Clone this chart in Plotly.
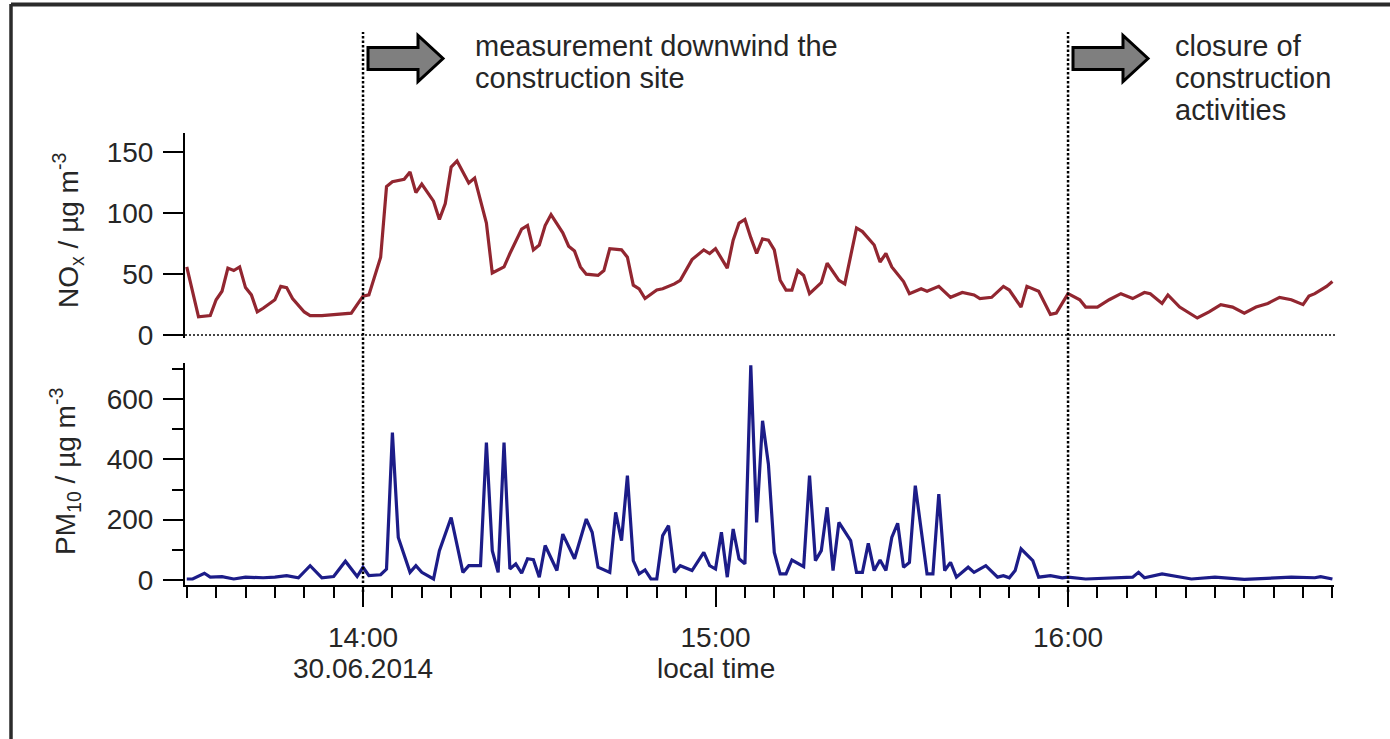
import plotly.graph_objects as go

# ---------------- data ----------------
DATE = "2014-06-30"

nox_time = [
    "13:30", "13:32", "13:34", "13:35", "13:36", "13:37", "13:38", "13:39", "13:40", "13:41",
    "13:42", "13:43", "13:45", "13:46", "13:47", "13:48", "13:50", "13:51", "13:53", "13:56",
    "13:58", "13:59", "14:00", "14:01", "14:03", "14:04", "14:05", "14:07", "14:08", "14:09",
    "14:10", "14:12", "14:13", "14:14", "14:15", "14:16", "14:17", "14:18", "14:19", "14:21",
    "14:22", "14:24", "14:25", "14:27", "14:28", "14:29", "14:30", "14:31", "14:32", "14:33",
    "14:34", "14:35", "14:36", "14:37", "14:38", "14:40", "14:41", "14:42", "14:44", "14:45",
    "14:46", "14:47", "14:48", "14:50", "14:51", "14:53", "14:54", "14:56", "14:57", "14:58",
    "14:59", "15:00", "15:02", "15:03", "15:04", "15:05", "15:06", "15:07", "15:08", "15:09",
    "15:10", "15:11", "15:12", "15:13", "15:14", "15:15", "15:16", "15:18", "15:19", "15:21",
    "15:22", "15:24", "15:25", "15:27", "15:28", "15:29", "15:30", "15:32", "15:33", "15:35",
    "15:36", "15:38", "15:40", "15:42", "15:44", "15:45", "15:47", "15:49", "15:50", "15:52",
    "15:53", "15:55", "15:57", "15:58", "15:59", "16:00", "16:02", "16:03", "16:05", "16:07",
    "16:09", "16:11", "16:13", "16:14", "16:16", "16:17", "16:19", "16:22", "16:24", "16:26",
    "16:28", "16:30", "16:32", "16:34", "16:36", "16:38", "16:40", "16:41", "16:42", "16:44",
    "16:45",
]
nox_value = [
    56, 15, 16, 29, 36, 55, 53, 56, 39, 33,
    19, 22, 29, 40, 39, 30, 19, 16, 16, 17,
    18, 25, 32, 33, 64, 122, 126, 128, 134, 117,
    124, 110, 95, 108, 138, 143, 134, 125, 129, 92,
    51, 56, 67, 87, 90, 70, 74, 90, 99, 92,
    84, 73, 69, 56, 50, 49, 53, 71, 70, 64,
    41, 38, 30, 37, 38, 42, 45, 62, 66, 70,
    67, 71, 55, 78, 92, 95, 80, 67, 79, 78,
    70, 45, 37, 37, 53, 49, 34, 43, 59, 45,
    42, 88, 85, 74, 60, 67, 56, 44, 34, 38,
    36, 40, 31, 35, 33, 30, 31, 40, 37, 23,
    40, 36, 17, 18, 26, 34, 29, 23, 23, 29,
    34, 30, 35, 34, 26, 33, 23, 14, 19, 25,
    23, 18, 23, 26, 31, 29, 25, 32, 34, 40,
    44,
]

pm_time = [
    "13:30", "13:31", "13:33", "13:34", "13:36", "13:38", "13:40", "13:43", "13:45", "13:47",
    "13:49", "13:51", "13:53", "13:55", "13:57", "13:59", "14:00", "14:01", "14:03", "14:04",
    "14:05", "14:06", "14:08", "14:09", "14:10", "14:12", "14:13", "14:15", "14:17", "14:18",
    "14:20", "14:21", "14:22", "14:23", "14:24", "14:25", "14:26", "14:27", "14:28", "14:29",
    "14:30", "14:31", "14:33", "14:34", "14:36", "14:38", "14:39", "14:40", "14:42", "14:43",
    "14:44", "14:45", "14:46", "14:47", "14:48", "14:49", "14:50", "14:51", "14:52", "14:53",
    "14:54", "14:56", "14:58", "14:59", "15:00", "15:01", "15:02", "15:03", "15:04", "15:05",
    "15:06", "15:07", "15:08", "15:09", "15:10", "15:11", "15:12", "15:13", "15:15", "15:16",
    "15:17", "15:18", "15:19", "15:20", "15:21", "15:23", "15:24", "15:25", "15:26", "15:27",
    "15:28", "15:29", "15:30", "15:31", "15:32", "15:33", "15:34", "15:36", "15:37", "15:38",
    "15:39", "15:40", "15:41", "15:43", "15:44", "15:46", "15:48", "15:49", "15:50", "15:51",
    "15:52", "15:54", "15:55", "15:57", "15:59", "16:00", "16:03", "16:09", "16:11", "16:12",
    "16:13", "16:16", "16:18", "16:21", "16:25", "16:30", "16:38", "16:42", "16:43", "16:45",
]
pm_value = [
    3, 3, 22, 9, 11, 3, 9, 7, 9, 14,
    7, 47, 7, 11, 62, 11, 42, 14, 17, 36,
    489, 141, 25, 47, 25, 3, 97, 207, 25, 47,
    47, 456, 97, 25, 456, 36, 53, 22, 70, 67,
    9, 114, 31, 152, 70, 202, 158, 42, 25, 224,
    130, 346, 64, 20, 33, 3, 3, 147, 180, 25,
    47, 31, 91, 47, 36, 158, 9, 169, 70, 53,
    712, 191, 528, 384, 91, 20, 20, 66, 44, 346,
    64, 97, 241, 31, 191, 130, 25, 25, 121, 31,
    66, 31, 141, 188, 42, 58, 313, 20, 20, 285,
    31, 58, 9, 42, 25, 47, 9, 14, 7, 31,
    103, 64, 9, 14, 7, 9, 3, 7, 9, 25,
    7, 20, 14, 3, 9, 2, 9, 7, 11, 3,
]

x_tick_times = ["14:00", "15:00", "16:00"]
x_tick_text = ["14:00", "15:00", "16:00"]
x_tick_subtext = ["30.06.2014", "local time", ""]
nox_ticks = [0, 50, 100, 150]
pm_ticks = [0, 200, 400, 600]
event_times = ["14:00", "16:00"]
event_labels = [
    ["measurement downwind the", "construction site"],
    ["closure of", "construction", "activities"],
]

# ---------------- layout helpers ----------------
W, H = 1390, 739
FONT = "Arial, 'Liberation Sans', sans-serif"
TXT = "#262626"


def ts(hm):
    return f"{DATE} {hm}:00"


def px(x):
    return x / W


def py(y):
    return 1 - y / H


X_DOMAIN = [px(185), px(1334)]
X_RANGE = [f"{DATE} 13:29:42", f"{DATE} 16:45:16"]

fig = go.Figure()
fig.add_trace(go.Scatter(
    x=[ts(t) for t in nox_time], y=nox_value, mode="lines",
    line=dict(color="#922630", width=3.2), xaxis="x", yaxis="y",
    showlegend=False, hoverinfo="skip",
))
fig.add_trace(go.Scatter(
    x=[ts(t) for t in pm_time], y=pm_value, mode="lines",
    line=dict(color="#1c1c88", width=3.2), xaxis="x2", yaxis="y2",
    showlegend=False, hoverinfo="skip",
))

axis_common = dict(
    showgrid=False, zeroline=False, showline=True, linecolor="black", linewidth=2,
    ticks="outside", ticklen=20, tickwidth=2, tickcolor="black", automargin=False,
    tickfont=dict(family=FONT, size=28, color=TXT),
)

fig.update_layout(
    template="none",
    width=W, height=H, autosize=False,
    margin=dict(l=0, r=0, t=0, b=0, pad=0, autoexpand=False),
    paper_bgcolor="white", plot_bgcolor="white",
    font=dict(family=FONT, color=TXT),
    xaxis=dict(domain=X_DOMAIN, range=X_RANGE, type="date", anchor="y",
               visible=False, showgrid=False, zeroline=False, automargin=False),
    yaxis=dict(domain=[py(337.5), py(133)], range=[-2, 166], anchor="x",
               tickmode="array", tickvals=nox_ticks, ticklabelstandoff=4, **axis_common),
    xaxis2=dict(domain=X_DOMAIN, range=X_RANGE, type="date", anchor="y2",
                tickmode="array", tickvals=[ts(t) for t in x_tick_times],
                ticktext=x_tick_text, ticklabelstandoff=6,
                minor=dict(tickmode="linear", tick0=ts("13:30"), dtick=5 * 60 * 1000,
                           ticks="outside", ticklen=11, tickwidth=2, tickcolor="black"),
                **axis_common),
    yaxis2=dict(domain=[py(585), py(363)], range=[-17, 720], anchor="x2",
                tickmode="array", tickvals=pm_ticks, ticklabelstandoff=4,
                minor=dict(tickmode="linear", tick0=0, dtick=100,
                           ticks="outside", ticklen=11, tickwidth=2, tickcolor="black"),
                **axis_common),
)

shapes = []
# outer frame (left and top edges of the figure box)
shapes.append(dict(type="line", xref="paper", yref="paper", x0=px(11), x1=px(11),
                   y0=-0.02, y1=py(4), line=dict(color="#2b2b2b", width=3.5)))
shapes.append(dict(type="line", xref="paper", yref="paper", x0=px(11), x1=1.02,
                   y0=py(4.5), y1=py(4.5), line=dict(color="#2b2b2b", width=4)))
# dotted zero line of the NOx panel
shapes.append(dict(type="line", xref="paper", yref="y", x0=px(185), x1=px(1336),
                   y0=0, y1=0, line=dict(color="#444444", width=2, dash="2px,2px")))
# dotted event lines
for t in event_times:
    shapes.append(dict(type="line", xref="x2", yref="paper", x0=ts(t), x1=ts(t),
                       y0=py(592), y1=py(32),
                       line=dict(color="black", width=2.5, dash="2.5px,2px")))


def arrow_path(x0):
    yc = 58.5
    pts = [(x0, yc - 11), (x0 + 50, yc - 11), (x0 + 50, yc - 23), (x0 + 75, yc),
           (x0 + 50, yc + 23), (x0 + 50, yc + 11), (x0, yc + 11)]
    return "M " + " L ".join(f"{px(a):.5f},{py(b):.5f}" for a, b in pts) + " Z"


for x0 in (368, 1073):
    shapes.append(dict(type="path", xref="paper", yref="paper", path=arrow_path(x0),
                       fillcolor="#7f7f7f", line=dict(color="black", width=3)))
fig.update_layout(shapes=shapes)

annotations = []
for x_left, lines in zip((473, 1173), event_labels):
    for i, line in enumerate(lines):
        annotations.append(dict(
            xref="paper", yref="paper", x=px(x_left), y=py(46 + 32 * i),
            xanchor="left", yanchor="middle", showarrow=False, text=line,
            font=dict(family=FONT, size=29, color=TXT),
        ))
# second line of the time-axis tick labels
for t, sub in zip(x_tick_times, x_tick_subtext):
    if sub:
        annotations.append(dict(
            xref="x2", yref="paper", x=ts(t), y=py(668), xanchor="center",
            yanchor="middle", showarrow=False, text=sub,
            font=dict(family=FONT, size=28, color=TXT),
        ))
annotations.append(dict(
    xref="paper", yref="paper", x=px(68), y=py(231), xanchor="center", yanchor="middle",
    textangle=-90, showarrow=False, text="NO<sub>x</sub> / µg m<sup>-3</sup>",
    font=dict(family=FONT, size=28, color=TXT),
))
annotations.append(dict(
    xref="paper", yref="paper", x=px(65), y=py(472), xanchor="center", yanchor="middle",
    textangle=-90, showarrow=False, text="PM<sub>10</sub> / µg m<sup>-3</sup>",
    font=dict(family=FONT, size=28, color=TXT),
))
fig.update_layout(annotations=annotations)

fig.write_html("out.html")
